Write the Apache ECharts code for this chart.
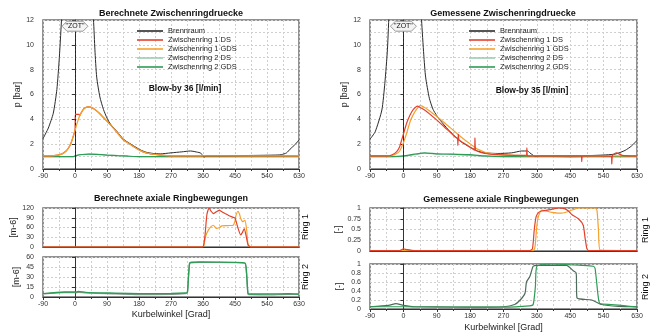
<!DOCTYPE html>
<html>
<head>
<meta charset="utf-8">
<script src="https://cdn.jsdelivr.net/npm/echarts@6/dist/echarts.min.js"></script>
<style>html,body{margin:0;padding:0;background:#fff}#c{width:655px;height:333px}</style>
</head>
<body>
<div id="c"></div>
<script>
// --- berechnete Druecke (links oben) ---
var angCalcBR = [-90,-75,-61,-51,-44,-37,-30,-20,-10,0,10,20,30,40,48,52,56,61,70,80,90,100,120,136,160,183,200,220,240,270,300,325,345,352,358,363,368,380,420,470,520,560,580,595,605,620,630];
var calcBR    = [2.45,3.3,4.5,6.4,9.0,12.5,16,24,32,36,36,30,22,16,13,12,9.6,7.4,5.8,4.8,4.1,3.6,2.95,2.4,1.95,1.55,1.35,1.25,1.22,1.3,1.38,1.45,1.35,1.3,1.15,0.95,1.05,1.05,1.05,1.08,1.1,1.12,1.15,1.3,1.6,2.0,2.35];
var angCalcZ1GDS = [-90,-60,-40,-25,-15,-8,0,5,10,15,22,30,38,50,60,70,80,90,100,120,136,160,183,200,220,250,280,350,450,630];
var calcZ1GDS    = [1.05,1.08,1.18,1.45,1.85,2.35,3.1,3.6,4.05,4.4,4.75,4.95,5.0,4.9,4.7,4.45,4.15,3.85,3.55,2.9,2.35,1.9,1.5,1.3,1.2,1.1,1.05,1.05,1.05,1.05];
var angCalcZ1DS = [-90,-60,-40,-25,-15,-8,0,1,11,13,15,22,30,38,50,60,70,80,90,100,120,136,160,183,200,220,250,280,350,450,630];
var calcZ1DS    = [1.05,1.08,1.18,1.45,1.85,2.35,3.15,4.4,4.4,4.3,4.4,4.75,4.95,5.0,4.9,4.7,4.45,4.15,3.85,3.55,2.9,2.35,1.9,1.5,1.3,1.2,1.1,1.05,1.05,1.05,1.05];
var angCalcZ2 = [-90,-30,-5,5,20,40,60,90,120,150,180,270,360,450,540,630];
var calcZ2GDS = [1.0,1.0,1.0,1.1,1.17,1.2,1.18,1.12,1.07,1.03,1.0,1.0,1.0,1.0,1.0,1.0];
var calcZ2DS  = [1.0,1.0,1.0,1.08,1.15,1.19,1.17,1.12,1.07,1.03,1.0,1.0,1.0,1.0,1.0,1.0];

// --- gemessene Druecke (rechts oben) ---
var angMeasBR = [-90,-76,-58,-50,-43,-38,-30,-15,0,15,30,42,49,55,60,70,80,90,100,120,140,160,184,200,220,255,292,319,335,341,350,355,370,450,520,571,598,615,630];
var measBR    = [2.4,3.0,4.75,6.9,9.6,13,17,30,40,40,28,16,12,9.2,7.4,5.7,4.8,4.3,3.9,3.2,2.6,2.1,1.7,1.45,1.3,1.25,1.3,1.45,1.45,1.3,1.1,1.0,1.05,1.05,1.1,1.2,1.5,1.85,2.3];
var angMeasZ1DS = [-90,-45,-30,-18,-10,-5,0,9,18,27,38,45,60,85,110,139,146,147,148,150,165,184,192,193,195,220,250,300,332,333,335,400,480,481,483,520,561,562,564,575,590,630];
var measZ1DS    = [1.05,1.05,1.15,1.4,1.8,2.3,2.8,3.7,4.35,4.8,5.07,4.95,4.7,4.08,3.4,2.6,2.45,1.9,2.8,2.35,2.05,1.67,1.5,2.5,1.5,1.25,1.15,1.1,1.1,1.7,1.05,1.05,1.05,0.6,1.05,1.05,1.0,0.4,1.1,1.3,1.1,1.05];
var angMeasZ1GDS = [-90,-45,-30,-18,-10,-5,0,9,18,27,38,45,55,70,85,110,139,165,184,200,220,250,300,400,500,630];
var measZ1GDS    = [1.05,1.05,1.1,1.25,1.45,1.75,2.1,2.9,3.8,4.4,4.9,5.1,5.0,4.7,4.35,3.75,3.0,2.35,1.93,1.6,1.35,1.2,1.1,1.05,1.05,1.05];
var angMeasZ2 = [-90,-30,0,30,58,90,130,180,220,270,360,450,540,630];
var measZ2GDS = [1.0,1.0,1.05,1.2,1.3,1.22,1.2,1.15,1.05,1.0,1.0,0.98,1.0,1.0];
var measZ2DS  = [1.0,1.0,1.02,1.15,1.27,1.2,1.17,1.1,1.02,1.0,1.0,1.0,1.0,1.0];

// --- berechnete Ringbewegungen [m-6] ---
var angR1calcDS = [-90,355,361,366,371,377,383,389,397,406,414,422,432,443,450,458,466,471,476,482,487,495,630];
var r1calcDS    = [0,0,2,40,100,120,110,103,108,113,108,103,97,92,89,60,37,45,57,30,6,0,0];
var angR1calcGDS = [-90,358,362,368,375,382,389,398,406,413,430,445,450,453,459,463,466,472,478,483,487,495,630];
var r1calcGDS    = [0,0,3,35,52,62,67,57,60,65,66,67,80,98,110,100,88,78,82,50,6,0,0];
var angR2calc = [-90,-30,0,5,10,30,90,180,270,310,316,319,322,325,350,450,478,482,485,487,495,540,600,630];
var r2calcGDS = [5,7.5,7.5,7.5,8.5,7,6,5,5.2,6,7,30,50,52,52.5,52,51,40,15,5,4.5,4.5,5,4.5];
var r2calcDS  = [4.5,6.5,6.5,6.5,7,6,5,3.5,4,5,6,28,49,51,52,51.5,50.5,38,13,4,3.5,3,4,4];

// --- gemessene Ringbewegungen [-] ---
var angR1measDS = [-90,-10,0,10,30,340,348,353,358,365,373,400,418,436,445,454,472,485,490,495,500,630];
var r1measDS    = [0.01,0.01,0.05,0.03,0.01,0.01,0.05,0.5,0.8,0.9,0.93,0.97,1.0,0.98,0.93,0.85,0.75,0.6,0.3,0.05,0.01,0.01];
var angR1measGDS = [-90,350,355,360,364,373,390,400,427,445,463,472,517,522,526,531,630];
var r1measGDS    = [0.01,0.01,0.1,0.6,0.8,0.95,0.92,0.9,0.88,0.92,0.98,1.0,1.0,0.95,0.5,0.02,0.01];
var angR2measA = [-90,-40,-20,0,30,90,180,270,300,315,328,332,341,350,360,440,458,466,468,508,535,580,630];
var r2measA    = [0.05,0.08,0.12,0.08,0.05,0.05,0.04,0.05,0.1,0.2,0.35,0.6,0.72,0.95,0.97,0.97,0.85,0.8,0.25,0.2,0.1,0.06,0.05];
var angR2measB = [-90,0,90,270,340,350,356,360,400,480,512,517,525,530,560,600,630];
var r2measB    = [0.05,0.05,0.04,0.04,0.07,0.1,0.5,0.95,1.0,0.97,0.95,0.9,0.3,0.12,0.1,0.07,0.04];

var legendNames = ['Brennraum','Zwischenring 1 DS','Zwischenring 1 GDS','Zwischenring 2 DS','Zwischenring 2 GDS'];
var xTicks = [-90, 630, 90];

var FONT = 'Liberation Sans, Arial, sans-serif';
var cBR = '#2b2b2b', cRed = '#e4412b', cOr = '#f5a12e', cG2DS = '#9ccdb0', cG2GDS = '#2e9c55', cGrey = '#4d6b5a';

var chart = echarts.init(document.getElementById('c'));

function line(name, xs, ys, color, gi, w, z) {
  return {
    name: name, type: 'line', xAxisIndex: gi, yAxisIndex: gi,
    data: xs.map(function (x, i) { return [x, ys[i]]; }),
    symbol: 'none', showSymbol: false, smooth: 0.2, silent: true,
    lineStyle: { color: color, width: w }, itemStyle: { color: color }, z: z || 2
  };
}

var grids = [
  { left: 43, top: 20, width: 256, height: 149 },
  { left: 370, top: 20, width: 267, height: 149 },
  { left: 43, top: 208, width: 256, height: 39 },
  { left: 43, top: 257, width: 256, height: 40 },
  { left: 370, top: 208, width: 267, height: 43 },
  { left: 370, top: 264, width: 267, height: 45 }
];
grids.forEach(function (g) { g.show = true; g.borderColor = '#6e6e6e'; g.borderWidth = 1.5; });

var dash = { color: '#cfcfcf', type: [2, 2], width: 1 };
var showXLab = [true, true, false, true, false, true];
var xAxes = grids.map(function (g, i) {
  return {
    type: 'value', gridIndex: i, min: xTicks[0], max: xTicks[1], interval: xTicks[2],
    axisLine: { show: true, lineStyle: { color: '#333', width: 1 } },
    axisTick: { show: showXLab[i], length: 3, lineStyle: { color: '#333' } },
    minorTick: { show: showXLab[i], splitNumber: 2, length: 2, lineStyle: { color: '#333' } },
    axisLabel: { show: showXLab[i], fontSize: 7, color: '#333', margin: 4, fontFamily: FONT },
    splitLine: { show: true, lineStyle: dash },
    minorSplitLine: { show: true, lineStyle: dash },
    name: (i === 3 || i === 5) ? 'Kurbelwinkel [Grad]' : '',
    nameLocation: 'middle', nameGap: i === 3 ? 13 : 14,
    nameTextStyle: { fontSize: 9, color: '#222', fontFamily: FONT }
  };
});

var ySpec = [
  { min: 0, max: 12, interval: 2, minor: true, name: 'p [bar]', gap: 13 },
  { min: 0, max: 12, interval: 2, minor: true, name: 'p [bar]', gap: 13 },
  { min: 0, max: 120, interval: 30, minor: false, name: '[m-6]', gap: 16 },
  { min: 0, max: 60, interval: 15, minor: false, name: '[m-6]', gap: 16 },
  { min: 0, max: 1, interval: 0.25, minor: false, name: '[-]', gap: 20 },
  { min: 0, max: 1, interval: 0.2, minor: false, name: '[-]', gap: 20 }
];
var yAxes = ySpec.map(function (s, i) {
  return {
    type: 'value', gridIndex: i, min: s.min, max: s.max, interval: s.interval, offset: 6,
    axisLine: { show: true, lineStyle: { color: '#333', width: 1 } },
    axisTick: { show: true, length: 3, lineStyle: { color: '#333' } },
    axisLabel: { fontSize: 7, color: '#333', margin: 3, fontFamily: FONT },
    splitLine: { show: true, lineStyle: dash },
    minorTick: { show: false, splitNumber: 2 },
    minorSplitLine: { show: s.minor, lineStyle: dash },
    name: s.name, nameLocation: 'middle', nameGap: s.gap,
    nameTextStyle: { fontSize: 9, color: '#222', fontFamily: FONT }
  };
});

var zeroLine = {
  symbol: 'none', silent: true, label: { show: false },
  lineStyle: { color: '#222', type: [2, 2], width: 1 }, data: [{ xAxis: 0 }]
};

var series = [
  // links oben
  line('Zwischenring 2 DS', angCalcZ2, calcZ2DS, cG2DS, 0, 1.2, 2),
  line('Zwischenring 2 GDS', angCalcZ2, calcZ2GDS, cG2GDS, 0, 1.2, 3),
  line('Zwischenring 1 DS', angCalcZ1DS, calcZ1DS, cRed, 0, 1.2, 4),
  line('Brennraum', angCalcBR, calcBR, cBR, 0, 1, 5),
  line('Zwischenring 1 GDS', angCalcZ1GDS, calcZ1GDS, cOr, 0, 1.2, 6),
  // rechts oben
  line('Zwischenring 2 DS', angMeasZ2, measZ2DS, cG2DS, 1, 1.2, 2),
  line('Zwischenring 2 GDS', angMeasZ2, measZ2GDS, cG2GDS, 1, 1.2, 3),
  line('Brennraum', angMeasBR, measBR, cBR, 1, 1, 4),
  line('Zwischenring 1 GDS', angMeasZ1GDS, measZ1GDS, cOr, 1, 1.2, 5),
  line('Zwischenring 1 DS', angMeasZ1DS, measZ1DS, cRed, 1, 1.2, 6),
  // Ringbewegungen berechnet
  line('R1 calc GDS', angR1calcGDS, r1calcGDS, cOr, 2, 1.2, 3),
  line('R1 calc DS', angR1calcDS, r1calcDS, cRed, 2, 1.2, 4),
  line('R2 calc DS', angR2calc, r2calcDS, '#8a9a90', 3, 1.2, 3),
  line('R2 calc GDS', angR2calc, r2calcGDS, cG2GDS, 3, 1.4, 4),
  // Ringbewegungen gemessen
  line('R1 meas GDS', angR1measGDS, r1measGDS, cOr, 4, 1.2, 3),
  line('R1 meas DS', angR1measDS, r1measDS, cRed, 4, 1.2, 4),
  line('R2 meas A', angR2measA, r2measA, cGrey, 5, 1.2, 3),
  line('R2 meas B', angR2measB, r2measB, cG2GDS, 5, 1.2, 4)
];
series[3].markLine = zeroLine;
series[7].markLine = zeroLine;

function legend(left) {
  return {
    data: legendNames.map(function (n) { return { name: n, icon: 'rect' }; }),
    orient: 'vertical', left: left, top: 26.5, itemWidth: 26, itemHeight: 1.6, itemGap: 0,
    textStyle: { fontSize: 7.5, lineHeight: 9, height: 9, color: '#222', fontFamily: FONT },
    selectedMode: false, padding: 0
  };
}

chart.setOption({
  animation: false,
  backgroundColor: '#fff',
  grid: grids,
  xAxis: xAxes,
  yAxis: yAxes,
  legend: [legend(137), legend(469)],
  series: series
});

function txt(t, x, y, size, bold, rot) {
  return {
    type: 'text', x: x, y: y, rotation: rot || 0, silent: true, z: 100,
    style: { text: t, fill: '#111', align: 'center', verticalAlign: 'middle',
      font: (bold ? 'bold ' : '') + size + 'px ' + FONT }
  };
}
function zot(gi) {
  var p = chart.convertToPixel({ xAxisIndex: gi, yAxisIndex: gi }, [0, 11.5]);
  return [{
    type: 'polygon', x: p[0], y: p[1], silent: true, z: 99,
    shape: { points: [[-13, 0], [-8, -5], [8, -5], [13, 0], [8, 5], [-8, 5]] },
    style: { fill: '#f4f4f4', stroke: '#9a9a9a', lineWidth: 1 }
  }, txt('"ZOT"', p[0], p[1], 7, false)];
}

var gfx = [
  txt('Berechnete Zwischenringdruecke', 171, 14, 9, true),
  txt('Gemessene Zwischenringdruecke', 503, 14, 9, true),
  txt('Berechnete axiale Ringbewegungen', 171, 199, 9, true),
  txt('Gemessene axiale Ringbewegungen', 501, 200, 9, true),
  txt('Blow-by 36 [l/min]', 185, 89, 8.5, true),
  txt('Blow-by 35 [l/min]', 532, 91, 8.5, true),
  txt('Ring 1', 306, 227, 9, false, Math.PI / 2),
  txt('Ring 2', 306, 277, 9, false, Math.PI / 2),
  txt('Ring 1', 646, 230, 9, false, Math.PI / 2),
  txt('Ring 2', 646, 287, 9, false, Math.PI / 2)
].concat(zot(0), zot(1));

chart.setOption({ graphic: gfx });
</script>
</body>
</html>
